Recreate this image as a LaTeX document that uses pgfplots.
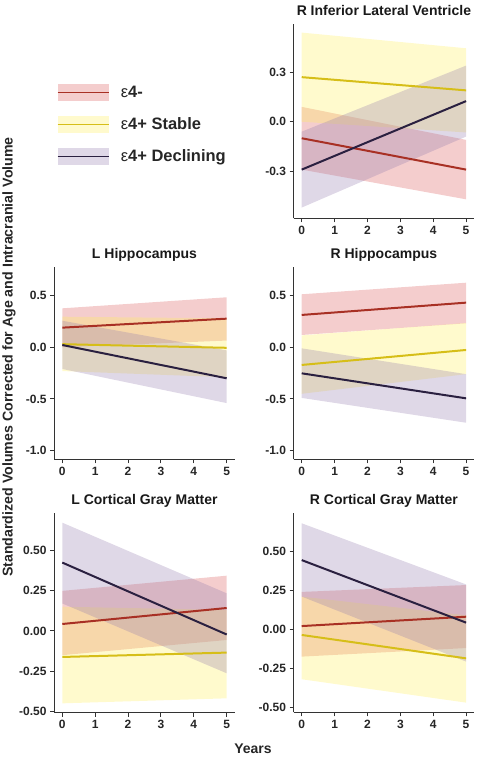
\documentclass[border=0pt]{standalone}
\usepackage{fontspec}
\setmainfont{Liberation Sans}
\usepackage{pgfplots}
\pgfplotsset{compat=1.18}
\definecolor{redL}{RGB}{168,48,36}
\definecolor{yelL}{RGB}{214,190,24}
\definecolor{purL}{RGB}{42,32,64}
\definecolor{redF}{RGB}{220,90,90}
\definecolor{yelF}{RGB}{255,240,90}
\definecolor{purF}{RGB}{150,125,175}
\pgfplotsset{
  panel/.style={
    scale only axis, width=180.8pt,
    axis x line*=bottom, axis y line*=left,
    axis line style={draw=black!80, line width=1pt, -},
    tick style={black!80, line width=1pt},
    tick align=outside, major tick length=4pt,
    xmin=-0.25, xmax=5.25,
    xtick={0,1,2,3,4,5}, xticklabels={0,1,2,3,4,5},
    ticklabel style={font=\bfseries\fontsize{12}{12}\selectfont, text=black!85},
    title style={font=\bfseries\fontsize{14}{14}\selectfont, text=black!90, at={(0.5,1)}, anchor=base, yshift=2.5pt},
    anchor=north west,
  },
  rib/.style={draw=none, fill=#1, fill opacity=0.3, forget plot, mark=none},
  ln/.style={draw=#1, line width=2pt, forget plot, mark=none},
}
\begin{document}
\begin{tikzpicture}
\useasboundingbox (0,0) rectangle (481pt,-762pt);

% Top right: R Inferior Lateral Ventricle
\begin{axis}[panel, at={(293.5pt,-24pt)}, height=194.3pt,
  ymin=-0.585, ymax=0.592, ytick={-0.3,0,0.3}, yticklabels={-0.3,0.0,0.3},
  title={R Inferior Lateral Ventricle},
  legend style={draw=none, fill=none, at={(-1.308,0.694)}, anchor=north west,
    font=\bfseries\fontsize{16.5}{16.5}\selectfont, text=black!85, row sep=15pt, inner sep=0pt,
    nodes={inner sep=1pt, anchor=west}},
  legend cell align=left]
\addplot[rib=redF] coordinates {(0,-0.29) (5,-0.47) (5,-0.11) (0,0.09)} -- cycle;
\addplot[rib=yelF] coordinates {(0,0.0) (5,-0.065) (5,0.445) (0,0.54)} -- cycle;
\addplot[rib=purF] coordinates {(0,-0.52) (5,-0.09) (5,0.34) (0,-0.06)} -- cycle;
\addplot[ln=redL] coordinates {(0,-0.10) (5,-0.29)};
\addplot[ln=yelL] coordinates {(0,0.27) (5,0.19)};
\addplot[ln=purL] coordinates {(0,-0.29) (5,0.125)};
\addlegendimage{legend image code/.code={\fill[draw=none, fill=redF, fill opacity=0.3] (0pt,-8.5pt) rectangle (51pt,8.5pt); \draw[redL, line width=0.8pt] (0pt,0pt) -- (51pt,0pt); \path (62pt,0pt);}}
\addlegendentry{{\mdseries ε}4-}
\addlegendimage{legend image code/.code={\fill[draw=none, fill=yelF, fill opacity=0.3] (0pt,-8.5pt) rectangle (51pt,8.5pt); \draw[yelL, line width=0.8pt] (0pt,0pt) -- (51pt,0pt); \path (62pt,0pt);}}
\addlegendentry{{\mdseries ε}4+ Stable}
\addlegendimage{legend image code/.code={\fill[draw=none, fill=purF, fill opacity=0.3] (0pt,-8.5pt) rectangle (51pt,8.5pt); \draw[purL, line width=0.8pt] (0pt,0pt) -- (51pt,0pt); \path (62pt,0pt);}}
\addlegendentry{{\mdseries ε}4+ Declining}
\end{axis}

% Middle left: L Hippocampus
\begin{axis}[panel, at={(54.1pt,-267.3pt)}, height=192pt,
  ymin=-1.084, ymax=0.774, ytick={-1,-0.5,0,0.5}, yticklabels={-1.0,-0.5,0.0,0.5},
  title={L Hippocampus}]
\addplot[rib=redF] coordinates {(0,0.0) (5,0.065) (5,0.484) (0,0.377)} -- cycle;
\addplot[rib=yelF] coordinates {(0,-0.23) (5,-0.29) (5,0.28) (0,0.296)} -- cycle;
\addplot[rib=purF] coordinates {(0,-0.21) (5,-0.54) (5,-0.03) (0,0.257)} -- cycle;
\addplot[ln=redL] coordinates {(0,0.19) (5,0.277)};
\addplot[ln=yelL] coordinates {(0,0.03) (5,-0.005)};
\addplot[ln=purL] coordinates {(0,0.022) (5,-0.30)};
\end{axis}

% Middle right: R Hippocampus
\begin{axis}[panel, at={(293.5pt,-267.3pt)}, height=192pt,
  ymin=-1.084, ymax=0.774, ytick={-1,-0.5,0,0.5}, yticklabels={-1.0,-0.5,0.0,0.5},
  title={R Hippocampus}]
\addplot[rib=redF] coordinates {(0,0.119) (5,0.232) (5,0.625) (0,0.513)} -- cycle;
\addplot[rib=yelF] coordinates {(0,-0.45) (5,-0.26) (5,0.235) (0,0.115)} -- cycle;
\addplot[rib=purF] coordinates {(0,-0.49) (5,-0.73) (5,-0.26) (0,-0.01)} -- cycle;
\addplot[ln=redL] coordinates {(0,0.313) (5,0.432)};
\addplot[ln=yelL] coordinates {(0,-0.171) (5,-0.026)};
\addplot[ln=purL] coordinates {(0,-0.252) (5,-0.494)};
\end{axis}

% Bottom left: L Cortical Gray Matter
\begin{axis}[panel, at={(54.1pt,-513.3pt)}, height=199.4pt,
  ymin=-0.506, ymax=0.728, ytick={-0.5,-0.25,0,0.25,0.5}, yticklabels={-0.50,-0.25,0.00,0.25,0.50},
  title={L Cortical Gray Matter}]
\addplot[rib=redF] coordinates {(0,-0.15) (5,-0.056) (5,0.342) (0,0.248)} -- cycle;
\addplot[rib=yelF] coordinates {(0,-0.448) (5,-0.417) (5,0.13) (0,0.15)} -- cycle;
\addplot[rib=purF] coordinates {(0,0.170) (5,-0.262) (5,0.233) (0,0.67)} -- cycle;
\addplot[ln=redL] coordinates {(0,0.043) (5,0.142)};
\addplot[ln=yelL] coordinates {(0,-0.161) (5,-0.134)};
\addplot[ln=purL] coordinates {(0,0.423) (5,-0.022)};
\end{axis}

% Bottom right: R Cortical Gray Matter
\begin{axis}[panel, at={(293.5pt,-513.3pt)}, height=199pt,
  ymin=-0.532, ymax=0.744, ytick={-0.5,-0.25,0,0.25,0.5}, yticklabels={-0.50,-0.25,0.00,0.25,0.50},
  title={R Cortical Gray Matter}]
\addplot[rib=redF] coordinates {(0,-0.175) (5,-0.12) (5,0.284) (0,0.24)} -- cycle;
\addplot[rib=yelF] coordinates {(0,-0.32) (5,-0.47) (5,0.09) (0,0.21)} -- cycle;
\addplot[rib=purF] coordinates {(0,0.21) (5,-0.207) (5,0.288) (0,0.68)} -- cycle;
\addplot[ln=redL] coordinates {(0,0.021) (5,0.081)};
\addplot[ln=yelL] coordinates {(0,-0.036) (5,-0.186)};
\addplot[ln=purL] coordinates {(0,0.444) (5,0.043)};
\end{axis}

\node[rotate=90, font=\bfseries\fontsize{14.2}{14.2}\selectfont, text=black!85] at (9pt,-357pt)
  {Standardized Volumes Corrected for Age and Intracranial Volume};
\node[font=\bfseries\fontsize{14}{14}\selectfont, text=black!85, anchor=base] at (253pt,-753pt) {Years};
\end{tikzpicture}
\end{document}
